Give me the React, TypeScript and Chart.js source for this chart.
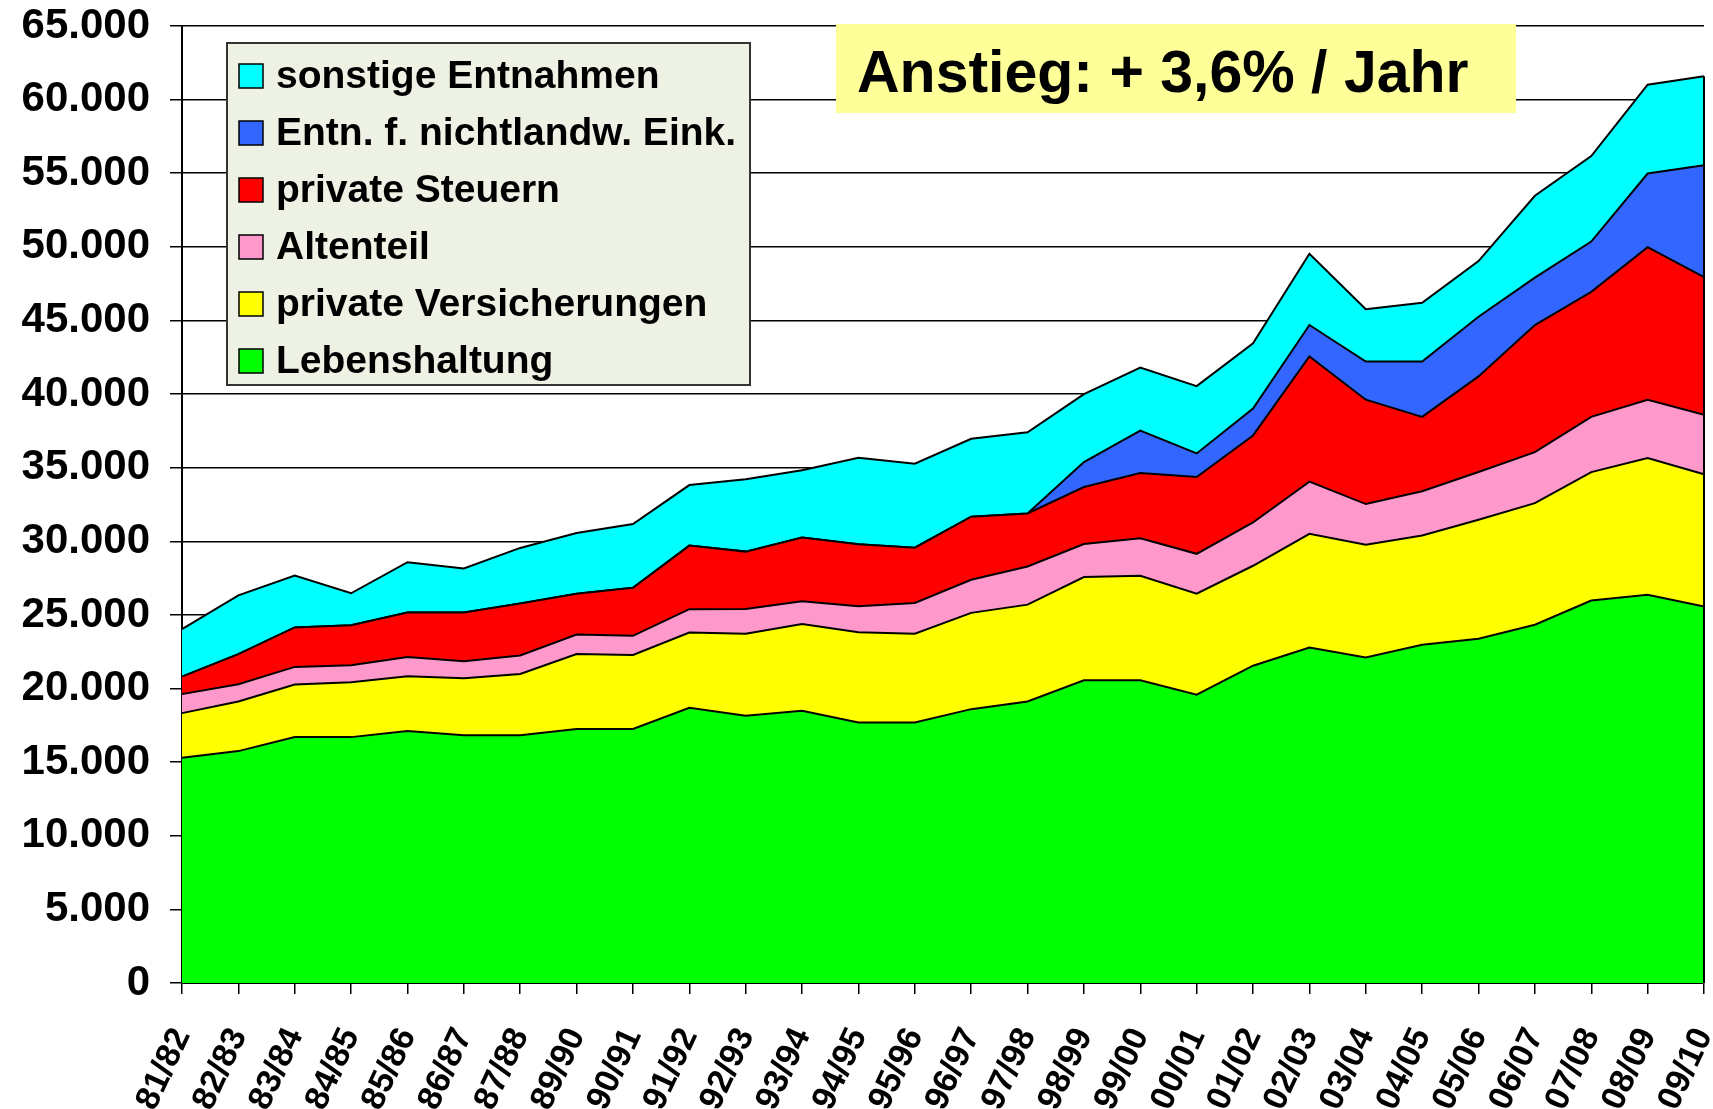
import React, { useEffect, useRef } from 'react';
import { Chart, registerables } from 'chart.js';

Chart.register(...registerables);

const categories = [
  '81/82', '82/83', '83/84', '84/85', '85/86', '86/87', '87/88', '89/90', '90/91', '91/92',
  '92/93', '93/94', '94/95', '95/96', '96/97', '97/98', '98/99', '99/00', '00/01', '01/02',
  '02/03', '03/04', '04/05', '05/06', '06/07', '07/08', '08/09', '09/10',
];

const lebenshaltung = [
  15300, 15750, 16700, 16700, 17120, 16830, 16830, 17250, 17250, 18690,
  18150, 18490, 17700, 17700, 18600, 19120, 20560, 20560, 19580, 21550,
  22790, 22110, 22970, 23380, 24330, 25980, 26370, 25570,
];
const privateVersicherungen = [
  3030, 3370, 3570, 3730, 3710, 3870, 4160, 5090, 5030, 5110,
  5570, 5900, 6130, 6020, 6540, 6580, 7010, 7100, 6860, 6790,
  7720, 7650, 7430, 8080, 8260, 8720, 9280, 8980,
];
const altenteil = [
  1290, 1170, 1200, 1150, 1310, 1150, 1260, 1330, 1300, 1590,
  1690, 1530, 1760, 2090, 2250, 2590, 2250, 2540, 2710, 2940,
  3540, 2770, 3000, 3250, 3470, 3750, 3970, 4050,
];
const privateSteuern = [
  1190, 2050, 2680, 2720, 3020, 3310, 3520, 2770, 3270, 4320,
  3890, 4330, 4210, 3760, 4280, 3600, 3870, 4440, 5220, 5910,
  8500, 7090, 5050, 6490, 8630, 8490, 10360, 9350,
];
const entnNichtlandw = [
  0, 0, 0, 0, 0, 0, 0, 0, 0, 0,
  0, 0, 0, 0, 0, 0, 1690, 2880, 1600, 1820,
  2140, 2590, 3760, 4050, 3220, 3420, 5000, 7590,
];
const sonstigeEntnahmen = [
  3220, 3990, 3530, 2170, 3420, 2990, 3780, 4120, 4320, 4110,
  4910, 4570, 5880, 5700, 5290, 5520, 4620, 4280, 4570, 4440,
  4840, 3560, 3990, 3780, 5560, 5810, 6030, 6040,
];

const seriesLabels = [
  'Lebenshaltung',
  'private Versicherungen',
  'Altenteil',
  'private Steuern',
  'Entn. f. nichtlandw. Eink.',
  'sonstige Entnahmen',
];
const seriesColors = ['#00FF00', '#FFFF00', '#FF99CC', '#FF0000', '#3366FF', '#00FFFF'];

const yMin = 0;
const yMax = 65000;
const yStep = 5000;
const titleText = 'Anstieg: + 3,6% / Jahr';

const FONT = '"Liberation Sans", Arial, sans-serif';

const fmt = (v: number) => String(v).replace(/\B(?=(\d{3})+(?!\d))/g, '.');

export default function App() {
  const ref = useRef<HTMLCanvasElement>(null);

  useEffect(() => {
    document.body.style.margin = '0';
    const canvas = ref.current;
    if (!canvas) return;
    const ctx = canvas.getContext('2d');
    if (!ctx) return;

    const seriesData = [
      lebenshaltung,
      privateVersicherungen,
      altenteil,
      privateSteuern,
      entnNichtlandw,
      sonstigeEntnahmen,
    ];

    const rightEdge = {
      id: 'rightEdge',
      afterDatasetsDraw(chart: any) {
        const meta = chart.getDatasetMeta(seriesData.length - 1);
        const pts = meta.data;
        if (!pts.length) return;
        const last = pts[pts.length - 1];
        const c = chart.ctx;
        c.save();
        c.strokeStyle = '#000';
        c.lineWidth = 2;
        c.beginPath();
        c.moveTo(last.x, last.y);
        c.lineTo(last.x, chart.chartArea.bottom);
        c.stroke();
        c.restore();
      },
    };

    const overlay = {
      id: 'overlay',
      afterDraw(chart: any) {
        const c = chart.ctx;
        c.save();
        // legend box
        c.fillStyle = '#EEF2E4';
        c.fillRect(227, 43, 523, 342);
        c.strokeStyle = '#333';
        c.lineWidth = 2;
        c.strokeRect(227, 43, 523, 342);
        c.font = `bold 39px ${FONT}`;
        c.textBaseline = 'middle';
        c.textAlign = 'left';
        for (let k = 0; k < seriesLabels.length; k++) {
          const idx = seriesLabels.length - 1 - k;
          const y = 76 + 57 * k;
          c.fillStyle = seriesColors[idx];
          c.fillRect(239, y - 12, 24, 24);
          c.strokeStyle = '#000';
          c.lineWidth = 1.5;
          c.strokeRect(239, y - 12, 24, 24);
          c.fillStyle = '#000';
          c.fillText(seriesLabels[idx], 276, y + 1);
        }
        // title box
        c.fillStyle = '#FFFF99';
        c.fillRect(836, 24, 680, 89);
        c.fillStyle = '#000';
        c.font = `bold 59px ${FONT}`;
        c.textBaseline = 'alphabetic';
        c.fillText(titleText, 857, 92);
        c.restore();
      },
    };

    const chart = new Chart(ctx, {
      type: 'line',
      data: {
        labels: categories,
        datasets: seriesData.map((d, i) => ({
          label: seriesLabels[i],
          data: d,
          backgroundColor: seriesColors[i],
          borderColor: '#000',
          borderWidth: 2,
          pointRadius: 0,
          pointHoverRadius: 0,
          tension: 0,
          fill: i === 0 ? 'origin' : '-1',
        })),
      },
      options: {
        responsive: false,
        animation: false,
        devicePixelRatio: 1,
        layout: { padding: { left: 0, right: 9, top: 26, bottom: 0 } },
        plugins: {
          legend: { display: false },
          title: { display: false },
          tooltip: { enabled: false },
        },
        scales: {
          x: {
            type: 'category',
            offset: false,
            grid: {
              display: true,
              drawOnChartArea: false,
              drawTicks: true,
              tickLength: 11,
              color: '#000',
              lineWidth: 1.5,
            },
            border: { display: true, color: '#000', width: 2 },
            ticks: {
              autoSkip: false,
              maxRotation: 65,
              minRotation: 65,
              padding: 28,
              color: '#000',
              font: { family: FONT, weight: 'bold', size: 34 },
            },
            afterFit: (s: any) => {
              s.height = 126;
              s.paddingLeft = 0;
              s.paddingRight = 0;
            },
          },
          y: {
            stacked: true,
            min: yMin,
            max: yMax,
            grid: {
              color: '#000',
              lineWidth: 1.5,
              tickLength: 12,
              drawTicks: true,
            },
            border: { display: true, color: '#000', width: 2 },
            ticks: {
              stepSize: yStep,
              padding: 20,
              color: '#000',
              font: { family: FONT, weight: 'bold', size: 42 },
              callback: (v: any) => fmt(Number(v)),
            },
            afterFit: (s: any) => {
              s.width = 182;
              s.paddingTop = 0;
              s.paddingBottom = 0;
            },
          },
        },
      } as any,
      plugins: [rightEdge, overlay],
    });

    return () => chart.destroy();
  }, []);

  return (
    <div style={{ position: 'absolute', left: 0, top: 0, width: 1713, height: 1109, background: '#fff', overflow: 'hidden' }}>
      <canvas ref={ref} width={1713} height={1109} style={{ display: 'block', width: 1713, height: 1109 }} />
    </div>
  );
}
